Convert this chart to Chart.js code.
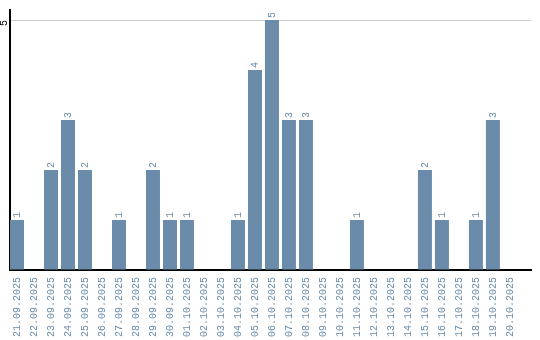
<!DOCTYPE html>
<html>
<head>
<meta charset="utf-8">
<script src="https://cdn.jsdelivr.net/npm/chart.js@4"></script>
<style>
  body { margin: 0; background: #fff; }
  #wrap { width: 540px; height: 340px; }
</style>
</head>
<body>
<div id="wrap"><canvas id="graphique"></canvas></div>
<script>
const dates = [
  "21.09.2025", "22.09.2025", "23.09.2025", "24.09.2025", "25.09.2025",
  "26.09.2025", "27.09.2025", "28.09.2025", "29.09.2025", "30.09.2025",
  "01.10.2025", "02.10.2025", "03.10.2025", "04.10.2025", "05.10.2025",
  "06.10.2025", "07.10.2025", "08.10.2025", "09.10.2025", "10.10.2025",
  "11.10.2025", "12.10.2025", "13.10.2025", "14.10.2025", "15.10.2025",
  "16.10.2025", "17.10.2025", "18.10.2025", "19.10.2025", "20.10.2025"
];
const valeurs = [1, 0, 2, 3, 2, 0, 1, 0, 2, 1, 1, 0, 0, 1, 4, 5, 3, 3, 0, 0, 1, 0, 0, 0, 2, 1, 0, 1, 3, 0];
const yTicks = [5];

const couleur = "#6a8caa";
const police = "'Liberation Mono', monospace";

// étiquettes tournées : valeurs au-dessus des barres + graduation de l'axe y
const etiquettesPlugin = {
  id: "etiquettes",
  afterDatasetsDraw(chart) {
    const ctx = chart.ctx;
    const meta = chart.getDatasetMeta(0);
    ctx.save();
    ctx.font = "10px " + police;
    ctx.fillStyle = couleur;
    ctx.textAlign = "left";
    ctx.textBaseline = "middle";
    meta.data.forEach((bar, i) => {
      if (!valeurs[i]) return;
      ctx.save();
      ctx.translate(bar.x, bar.y - 2);
      ctx.rotate(-Math.PI / 2);
      ctx.fillText(String(valeurs[i]), 0, 0);
      ctx.restore();
    });
    const y = chart.scales.y;
    ctx.fillStyle = "#000";
    ctx.textAlign = "right";
    for (const v of yTicks) {
      ctx.save();
      ctx.translate(y.left - 6, y.getPixelForValue(v));
      ctx.rotate(-Math.PI / 2);
      ctx.fillText(String(v), 0, 0);
      ctx.restore();
    }
    ctx.restore();
  }
};

const data = {
  datasets: [{
    data: valeurs.map((v, i) => ({ x: i, y: v })),
    backgroundColor: couleur,
    borderWidth: 0,
    barPercentage: 14 / 17,
    categoryPercentage: 1
  }]
};

const config = {
  type: "bar",
  data: data,
  plugins: [etiquettesPlugin],
  options: {
    responsive: false,
    animation: false,
    layout: { padding: { left: 10, right: 9, top: 10, bottom: 0 } },
    plugins: { legend: { display: false }, tooltip: { enabled: false } },
    scales: {
      x: {
        type: "linear",
        offset: false,
        min: -7 / 17,
        max: 30.24,
        afterBuildTicks: (axis) => { axis.ticks = dates.map((d, i) => ({ value: i })); },
        afterFit: (axis) => { axis.height = 70; },
        grid: { display: false, drawTicks: false },
        border: { color: "#000", width: 2 },
        ticks: {
          autoSkip: false,
          minRotation: 90,
          maxRotation: 90,
          padding: 7,
          color: couleur,
          font: { family: police, size: 10 },
          callback: (v) => dates[v]
        }
      },
      y: {
        min: 0,
        max: 5.2,
        afterBuildTicks: (axis) => { axis.ticks = [{ value: 0 }].concat(yTicks.map((v) => ({ value: v }))); },
        grid: {
          drawTicks: false,
          color: (c) => (c.tick && c.tick.value === 5 ? "#cccccc" : "rgba(0,0,0,0)")
        },
        border: { color: "#000", width: 2 },
        ticks: { display: false }
      }
    }
  }
};

const canvas = document.querySelector("#graphique");
canvas.width = 540;
canvas.height = 340;
new Chart(canvas, config);
</script>
</body>
</html>
